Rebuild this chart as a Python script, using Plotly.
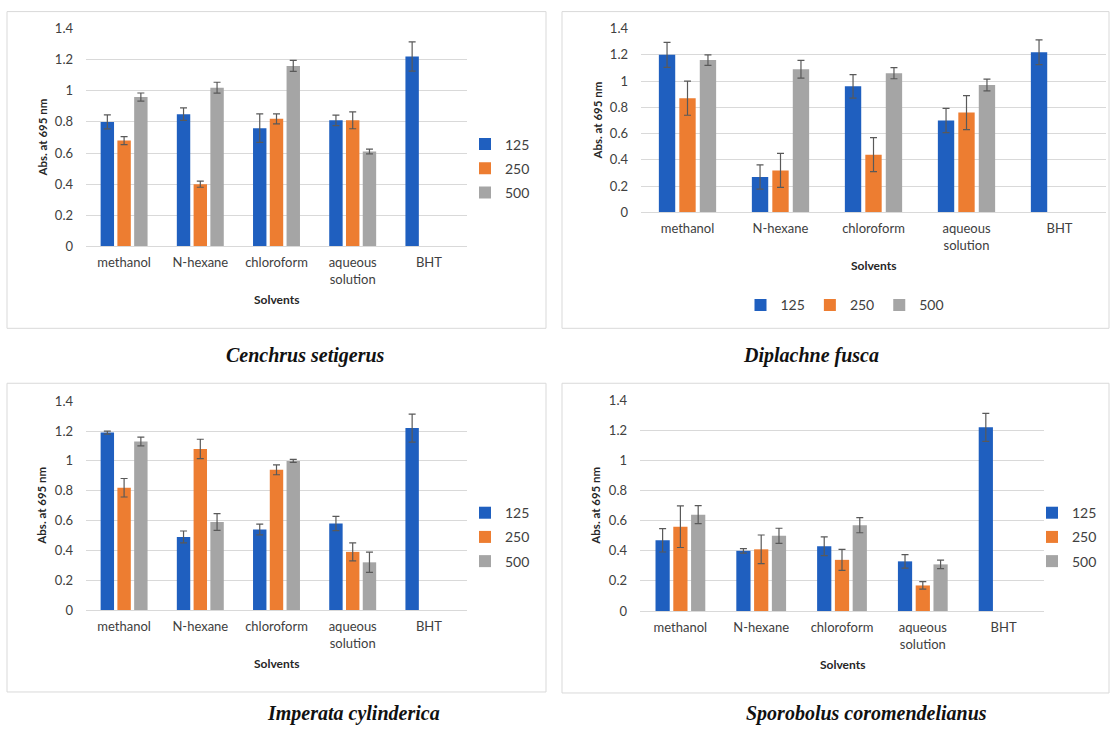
import plotly.graph_objects as go

W, H = 1110, 731

categories = ["methanol", "N-hexane", "chloroform", "aqueous<br>solution", "BHT"]
doses = ["125", "250", "500"]

# Cenchrus setigerus
cs_125 = [0.80, 0.85, 0.76, 0.81, 1.22]
cs_250 = [0.68, 0.40, 0.82, 0.81, None]
cs_500 = [0.96, 1.02, 1.16, 0.61, None]
cs_err_125 = [0.045, 0.04, 0.092, 0.034, 0.094]
cs_err_250 = [0.026, 0.02, 0.032, 0.054, 0]
cs_err_500 = [0.026, 0.035, 0.035, 0.015, 0]

# Diplachne fusca
df_125 = [1.20, 0.27, 0.96, 0.70, 1.22]
df_250 = [0.87, 0.32, 0.44, 0.76, None]
df_500 = [1.16, 1.09, 1.06, 0.97, None]
df_err_125 = [0.095, 0.092, 0.09, 0.092, 0.094]
df_err_250 = [0.13, 0.13, 0.13, 0.13, 0]
df_err_500 = [0.04, 0.068, 0.042, 0.045, 0]

# Imperata cylinderica
ic_125 = [1.19, 0.49, 0.54, 0.58, 1.22]
ic_250 = [0.82, 1.08, 0.94, 0.39, None]
ic_500 = [1.13, 0.59, 1.00, 0.32, None]
ic_err_125 = [0.01, 0.04, 0.036, 0.048, 0.094]
ic_err_250 = [0.062, 0.065, 0.033, 0.06, 0]
ic_err_500 = [0.029, 0.056, 0.01, 0.068, 0]

# Sporobolus coromendelianus
sc_125 = [0.47, 0.40, 0.43, 0.33, 1.22]
sc_250 = [0.56, 0.41, 0.34, 0.17, None]
sc_500 = [0.64, 0.50, 0.57, 0.31, None]
sc_err_125 = [0.078, 0.015, 0.062, 0.045, 0.093]
sc_err_250 = [0.138, 0.095, 0.07, 0.025, 0]
sc_err_500 = [0.06, 0.05, 0.05, 0.028, 0]

species = ["Cenchrus setigerus", "Diplachne fusca", "Imperata cylinderica", "Sporobolus coromendelianus"]
y_ticks = [0, 0.2, 0.4, 0.6, 0.8, 1.0, 1.2, 1.4]

colors = ["#1f5fbf", "#ed7d31", "#a5a5a5"]
err_color = "#595959"
font_family = "Lato"


def X(px):
    return px / W


def Y(py):
    # vertical placement, corrected for the slight vertical offset/scale seen in the rendered page
    fy = (py - 7.4) / 0.979
    return 1 - fy / H


panels = [
    dict(vals=[cs_125, cs_250, cs_500], errs=[cs_err_125, cs_err_250, cs_err_500],
         xd=(86, 467), yd=(28, 246), legend="legend"),
    dict(vals=[df_125, df_250, df_500], errs=[df_err_125, df_err_250, df_err_500],
         xd=(641, 1106), yd=(28, 212), legend="legend2"),
    dict(vals=[ic_125, ic_250, ic_500], errs=[ic_err_125, ic_err_250, ic_err_500],
         xd=(86, 467), yd=(401, 610), legend="legend3"),
    dict(vals=[sc_125, sc_250, sc_500], errs=[sc_err_125, sc_err_250, sc_err_500],
         xd=(640, 1044), yd=(400, 611), legend="legend4"),
]

fig = go.Figure()
layout = {}
annotations = []
shapes = []

for i, p in enumerate(panels):
    n = "" if i == 0 else str(i + 1)
    xa, ya = "x" + n, "y" + n
    for j, d in enumerate(doses):
        fig.add_trace(go.Bar(
            x=categories, y=p["vals"][j], name=d,
            marker=dict(color=colors[j], line=dict(width=0)),
            error_y=dict(type="data", array=p["errs"][j], color=err_color,
                         thickness=1.2, width=3.5),
            xaxis=xa, yaxis=ya, legend=p["legend"], legendgroup=f"{i}_{d}",
        ))
    layout["xaxis" + n] = dict(
        domain=[X(p["xd"][0]), X(p["xd"][1])], anchor=ya,
        showgrid=False, showline=True, linecolor="#d9d9d9", linewidth=1,
        ticks="", tickfont=dict(family=font_family, size=13, color="#404040"),
        ticklabelstandoff=4, tickangle=0, fixedrange=True,
    )
    layout["yaxis" + n] = dict(
        domain=[Y(p["yd"][1]), Y(p["yd"][0])], anchor=xa,
        range=[0, 1.4], tickvals=y_ticks, ticktext=[f"{v:g}" for v in y_ticks],
        showgrid=True, gridcolor="#d9d9d9", gridwidth=1,
        zeroline=True, zerolinecolor="#d9d9d9", zerolinewidth=1,
        showline=False, ticks="", ticklabelstandoff=12,
        tickfont=dict(family=font_family, size=13, color="#404040"), fixedrange=True,
    )
    annotations.append(dict(
        x=X(p["xd"][0] - 44), y=Y((p["yd"][0] + p["yd"][1]) / 2), xref="paper", yref="paper",
        text="<b>Abs. at 695 nm</b>", textangle=-90, showarrow=False,
        font=dict(family=font_family, size=11.5, color="#262626"),
        xanchor="center", yanchor="middle",
    ))
    annotations.append(dict(
        x=X((p["xd"][0] + p["xd"][1]) / 2), y=Y(p["yd"][1] + 53), xref="paper", yref="paper",
        text="<b>Solvents</b>", showarrow=False,
        font=dict(family=font_family, size=12, color="#262626"),
        xanchor="center", yanchor="middle",
    ))

frames = [(7, 11, 546, 328), (562, 11, 1109, 328), (7, 383, 546, 692), (562, 383, 1109, 693)]
for (x0, y0, x1, y1) in frames:
    shapes.append(dict(type="rect", xref="paper", yref="paper",
                       x0=X(x0), x1=X(x1), y0=max(Y(y1), 0.002), y1=min(Y(y0), 0.998),
                       line=dict(color="#d9d9d9", width=1), fillcolor="rgba(0,0,0,0)"))

caption_pos = [(305, 355), (811, 355), (353, 720), (866, 720)]
for name, (cx, cy) in zip(species, caption_pos):
    annotations.append(dict(
        x=X(cx), y=max(Y(cy), 10 / H), xref="paper", yref="paper", text=f"<b><i>{name}</i></b>",
        showarrow=False, font=dict(family="Liberation Serif", size=20, color="#111111"),
        xanchor="center", yanchor="middle",
    ))

legend_font = dict(family=font_family, size=14, color="#404040")
vleg = dict(orientation="v", font=legend_font, tracegroupgap=3, itemwidth=30,
            bgcolor="rgba(0,0,0,0)", xanchor="left", yanchor="middle", itemclick=False,
            itemdoubleclick=False)
layout["legend"] = dict(vleg, x=X(465), y=Y(168))
layout["legend3"] = dict(vleg, x=X(465), y=Y(537))
layout["legend4"] = dict(vleg, x=X(1032), y=Y(537))
layout["legend2"] = dict(orientation="h", font=legend_font, x=X(845), y=Y(305),
                         xanchor="center", yanchor="middle", itemwidth=30,
                         bgcolor="rgba(0,0,0,0)", itemclick=False, itemdoubleclick=False)

fig.update_layout(
    width=W, height=H, margin=dict(l=0, r=0, t=0, b=0),
    paper_bgcolor="white", plot_bgcolor="white",
    barmode="group", bargap=0.34, bargroupgap=0.2,
    annotations=annotations, shapes=shapes,
    **layout,
)

page_fix = (
    "document.documentElement.style.margin='0';"
    "document.body.style.margin='0';document.body.style.padding='0';"
    "document.body.style.overflow='hidden';"
    "var gd=document.getElementById('{plot_id}');"
    "gd.style.position='absolute';gd.style.top='0px';gd.style.left='0px';"
)

fig.write_html("out.html", config={"displayModeBar": False}, post_script=page_fix)
